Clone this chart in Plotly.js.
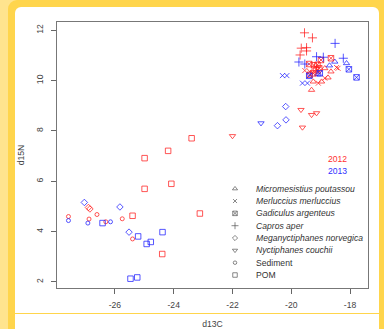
<!DOCTYPE html>
<html><head><meta charset="utf-8">
<script src="https://cdn.plot.ly/plotly-3.0.1.min.js"></script>
<style>
html,body{margin:0;padding:0;width:384px;height:329px;overflow:hidden;background:#FFE48E;}
#frame{position:absolute;left:8px;top:0;width:390px;height:340px;background:#FFD54C;border-radius:9px;}
#panel{position:absolute;left:15px;top:7px;width:364px;height:330px;background:#fff;border-radius:6px;}
#sep{position:absolute;left:15px;top:313px;width:364px;height:1px;background:#FFD54C;}
#chart{position:absolute;left:0;top:0;width:384px;height:329px;}
</style></head><body>
<div id="frame"></div><div id="panel"></div><div id="sep"></div>
<div id="chart"></div>
<script>
// ---- data (d13C = x, d15N = y) ----
const speciesNames = ["Micromesistius poutassou","Merluccius merluccius","Gadiculus argenteus","Capros aper","Meganyctiphanes norvegica","Nyctiphanes couchii","Sediment","POM"];
const italicFlags = [true,true,true,true,true,true,false,false];
const years = ["2012","2013"];

const micro2012_x = [-19.31,-19.25,-18.97,-18.86,-18.65,-18.75,-19.10];
const micro2012_y = [9.63,9.96,9.96,10.49,10.36,10.12,10.35];
const micro2013_x = [-18.52,-18.12,-18.70,-19.10];
const micro2013_y = [10.75,10.69,10.60,10.25];

const merl2012_x = [-19.54,-18.41,-19.37,-18.46,-18.86,-19.08];
const merl2012_y = [10.40,10.49,10.36,10.52,10.10,9.90];
const merl2013_x = [-20.30,-20.15,-19.62,-19.45];
const merl2013_y = [10.20,10.20,9.90,9.90];

const gadi2012_x = [-19.39,-19.23,-19.11,-18.99,-18.65,-19.16,-19.05,-19.37,-19.25];
const gadi2012_y = [10.66,10.61,10.63,10.82,10.89,10.45,10.49,10.23,10.29];
const gadi2013_x = [-18.04,-17.78,-19.03,-19.39];
const gadi2013_y = [10.45,10.13,10.29,10.19];

const capr2012_x = [-19.55,-19.28,-19.66,-19.48,-19.48,-19.70];
const capr2012_y = [11.90,11.70,11.29,11.31,11.18,11.02];
const capr2013_x = [-18.51,-19.74,-19.54,-19.14,-18.91,-18.23];
const capr2013_y = [11.48,10.74,10.66,10.95,10.93,10.89];

const mega2012_x = [-26.90,-26.85];
const mega2012_y = [4.96,4.90];
const mega2013_x = [-20.19,-20.47,-20.18,-27.04,-25.83,-25.52];
const mega2013_y = [8.97,8.21,8.44,5.16,4.98,3.98];

const nyct2012_x = [-19.67,-19.31,-19.14,-19.62,-22.00];
const nyct2012_y = [8.84,8.64,8.71,8.14,7.80];
const nyct2013_x = [-21.03];
const nyct2013_y = [8.31];

const sedi2012_x = [-27.58,-26.88,-26.61,-26.31,-25.75,-25.40];
const sedi2012_y = [4.60,4.50,4.68,4.39,4.51,3.71];
const sedi2013_x = [-27.58,-26.92,-26.15];
const sedi2013_y = [4.44,4.34,4.39];

const pom2012_x = [-23.39,-24.19,-24.99,-24.08,-24.99,-25.40,-24.39,-23.11];
const pom2012_y = [7.71,7.21,6.92,5.90,5.70,4.63,3.11,4.72];
const pom2013_x = [-26.42,-25.21,-24.78,-24.92,-24.38,-25.47,-25.24];
const pom2013_y = [4.34,3.81,3.59,3.51,3.98,2.13,2.18];

const xTicks = [-26,-24,-22,-20,-18];
const yTicks = [2,4,6,8,10,12];

// ---- styles ----
const seriesData = [
  [[micro2012_x,micro2012_y],[micro2013_x,micro2013_y]],
  [[merl2012_x,merl2012_y],[merl2013_x,merl2013_y]],
  [[gadi2012_x,gadi2012_y],[gadi2013_x,gadi2013_y]],
  [[capr2012_x,capr2012_y],[capr2013_x,capr2013_y]],
  [[mega2012_x,mega2012_y],[mega2013_x,mega2013_y]],
  [[nyct2012_x,nyct2012_y],[nyct2013_x,nyct2013_y]],
  [[sedi2012_x,sedi2012_y],[sedi2013_x,sedi2013_y]],
  [[pom2012_x,pom2012_y],[pom2013_x,pom2013_y]]
];
const symbols = ["triangle-up-open","x-thin-open","square-x-open","cross-thin-open","diamond-open","triangle-down-open","circle-open","square-open"];
const sizes = [5.5,5,5.5,6.5,5,5.5,4,5.5];
const legendSizes = [4.5,4,4.5,5,4,4.5,3.5,4.5];
const yearColors = ["rgba(255,30,30,0.75)","rgba(30,30,255,0.75)"];
const yearTextColors = ["#FF3030","#3030FF"];
const FONT = "Liberation Sans, Arial, sans-serif";

const traces = [];
seriesData.forEach((pair, s) => {
  pair.forEach((xy, yi) => {
    traces.push({
      type:"scatter", mode:"markers", x:xy[0], y:xy[1], showlegend:false, hoverinfo:"skip",
      marker:{symbol:symbols[s], size:sizes[s], color:yearColors[yi], line:{color:yearColors[yi], width:1}}
    });
  });
});

// legend keys on pixel-scaled overlay axes
const legX = 235, legTextX = 254, legY0 = 188.7, legStep = 12.33;
traces.push({
  type:"scatter", mode:"markers", xaxis:"x2", yaxis:"y2", showlegend:false, hoverinfo:"skip",
  x: speciesNames.map(() => legX),
  y: speciesNames.map((_, i) => legY0 + i*legStep),
  marker:{symbol:symbols, size:legendSizes, color:"#555", line:{color:"#555", width:1}}
});

const annotations = speciesNames.map((n, i) => ({
  xref:"x2", yref:"y2", x:legTextX, y:legY0 + i*legStep, xanchor:"left", yanchor:"middle",
  text: italicFlags[i] ? "<i>"+n+"</i>" : n, showarrow:false,
  font:{family:FONT, size:8.6, color:"#333"}
}));
years.forEach((yr, i) => annotations.push({
  xref:"x2", yref:"y2", x:337, y:158.7 + i*12.5, xanchor:"center", yanchor:"middle",
  text:yr, showarrow:false, font:{family:FONT, size:8.6, color:yearTextColors[i]}
}));

const axCommon = {
  showgrid:false, zeroline:false, showline:true, mirror:true, linecolor:"#777", linewidth:1,
  ticks:"outside", ticklen:5, tickcolor:"#666", tickwidth:1,
  tickfont:{family:FONT, size:8.6, color:"#444"}
};

const layout = {
  width:384, height:329,
  margin:{l:57, r:16, t:22, b:41},
  paper_bgcolor:"rgba(0,0,0,0)", plot_bgcolor:"rgba(0,0,0,0)",
  xaxis:Object.assign({}, axCommon, {range:[-27.97,-17.39], tickvals:xTicks, ticktext:xTicks.map(String),
    ticklabelstandoff:4,
    title:{text:"d13C", font:{family:FONT, size:8.6, color:"#444"}, standoff:14}}),
  yaxis:Object.assign({}, axCommon, {range:[1.76,12.33], tickvals:yTicks, ticktext:yTicks.map(String), tickangle:-90,
    ticklabelstandoff:5,
    title:{text:"d15N", font:{family:FONT, size:8.6, color:"#444"}, standoff:8}}),
  xaxis2:{overlaying:"x", range:[57,368], visible:false, fixedrange:true},
  yaxis2:{overlaying:"y", range:[288,22], visible:false, fixedrange:true},
  annotations:annotations,
  showlegend:false
};

Plotly.newPlot("chart", traces, layout, {displayModeBar:false, staticPlot:true});
</script>
</body></html>
